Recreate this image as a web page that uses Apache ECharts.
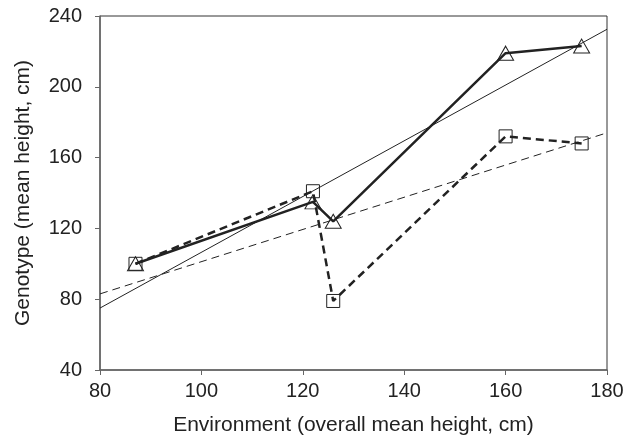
<!DOCTYPE html>
<html>
<head>
<meta charset="utf-8">
<script src="https://cdn.jsdelivr.net/npm/echarts@6/dist/echarts.min.js"></script>
<style>
html, body { margin: 0; padding: 0; background: #fff; }
#main { width: 634px; height: 435px; }
</style>
</head>
<body>
<div id="main"></div>
<script>
// environment means (x) and genotype means (y)
var envX = [87, 122, 126, 160, 175];
var genoTri = [100, 135, 124, 219, 223];
var genoSq = [100, 141, 79, 172, 168];
// fitted regression lines, read at the plot edges
var fitTri = [[80, 75], [180, 232.5]];
var fitSq = [[80, 83], [180, 174]];

var xTicks = [80, 100, 120, 140, 160, 180];
var yTicks = [40, 80, 120, 160, 200, 240];

function pairs(xs, ys) {
	var out = [];
	for (var i = 0; i < xs.length; i++) {
		out.push([xs[i], ys[i]]);
	}
	return out;
}

var chart = echarts.init(document.getElementById('main'));
var ink = '#222';
var font = 'Liberation Sans, Arial, sans-serif';

option = {
	animation: false,
	grid: {
		left: 100,
		right: 27,
		top: 16,
		bottom: 65,
		outerBoundsMode: 'none',
		show: true,
		borderColor: '#333',
		borderWidth: 1
	},
	xAxis: {
		type: 'value',
		min: xTicks[0],
		max: xTicks[xTicks.length - 1],
		interval: 20,
		name: 'Environment (overall mean height, cm)',
		nameLocation: 'middle',
		nameGap: 45,
		nameTextStyle: { fontFamily: font, fontSize: 21, color: ink },
		axisLine: { lineStyle: { color: '#666', width: 1.5 } },
		axisTick: { length: 5, lineStyle: { color: '#666' } },
		axisLabel: { margin: 11, fontFamily: font, fontSize: 20, color: ink },
		splitLine: { show: false }
	},
	yAxis: {
		type: 'value',
		min: yTicks[0],
		max: yTicks[yTicks.length - 1],
		interval: 40,
		name: 'Genotype (mean height, cm)',
		nameLocation: 'middle',
		nameGap: 66,
		nameTextStyle: { fontFamily: font, fontSize: 21, color: ink },
		axisLine: { show: true, lineStyle: { color: '#666', width: 1.5 } },
		axisTick: { show: true, length: 5, lineStyle: { color: '#666' } },
		axisLabel: { margin: 18, fontFamily: font, fontSize: 20, color: ink },
		splitLine: { show: false }
	},
	series: [
		{
			type: 'line',
			data: fitTri,
			symbol: 'none',
			lineStyle: { color: ink, width: 1 },
			silent: true
		},
		{
			type: 'line',
			data: fitSq,
			symbol: 'none',
			lineStyle: { color: ink, width: 1, type: [8, 5] },
			silent: true
		},
		{
			type: 'line',
			data: pairs(envX, genoSq),
			symbol: 'rect',
			symbolSize: 13,
			lineStyle: { color: ink, width: 2.5, type: [8, 5] },
			itemStyle: { color: 'rgba(0,0,0,0)', borderColor: ink, borderWidth: 1 }
		},
		{
			type: 'line',
			data: pairs(envX, genoTri),
			symbol: 'triangle',
			symbolSize: [16, 14],
			lineStyle: { color: ink, width: 2.5 },
			itemStyle: { color: 'rgba(0,0,0,0)', borderColor: ink, borderWidth: 1 }
		}
	]
};

chart.setOption(option);
</script>
</body>
</html>
